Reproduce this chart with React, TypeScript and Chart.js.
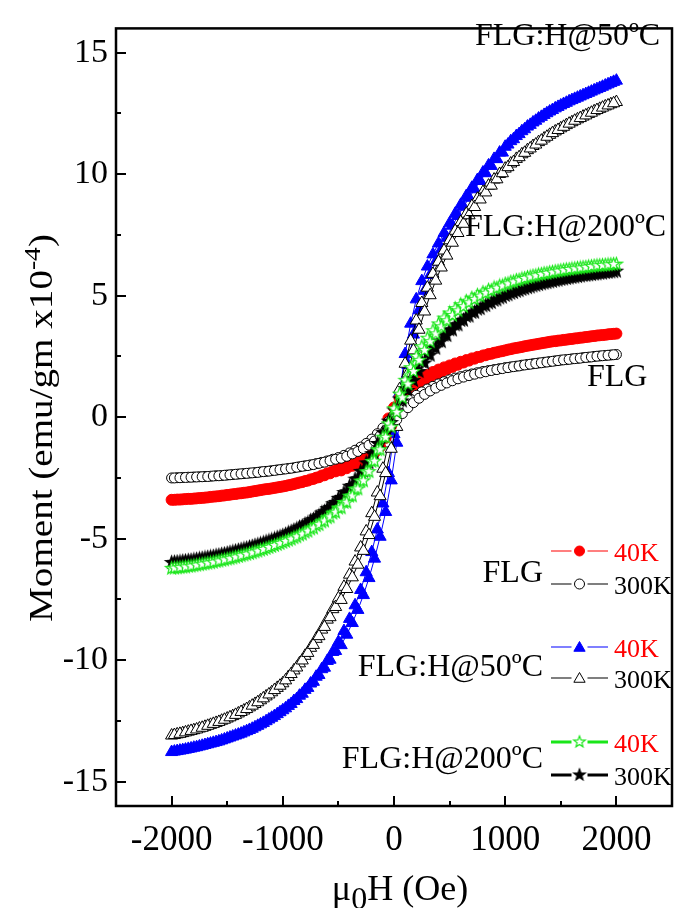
import React, { useEffect, useRef } from "react";
import { Chart, registerables } from "chart.js";

Chart.register(...registerables);

// ---------- data ----------
// descending branch field values (Oe)
const fieldOe = [
  -2000, -1950, -1900, -1850, -1800, -1750, -1700, -1650, -1600, -1550,
  -1500, -1450, -1400, -1350, -1300, -1250, -1200, -1150, -1100, -1050,
  -1000, -950, -900, -850, -800, -750, -700, -650, -600, -550,
  -500, -450, -400, -350, -300, -250, -200, -150, -100, -50,
  0, 50, 100, 150, 200, 250, 300, 350, 400, 450,
  500, 550, 600, 650, 700, 750, 800, 850, 900, 950,
  1000, 1050, 1100, 1150, 1200, 1250, 1300, 1350, 1400, 1450,
  1500, 1550, 1600, 1650, 1700, 1750, 1800, 1850, 1900, 1950,
  2000,
];
// ascending branch field values (Oe)
const fieldUpOe = [
  -1975, -1925, -1875, -1825, -1775, -1725, -1675, -1625, -1575, -1525,
  -1475, -1425, -1375, -1325, -1275, -1225, -1175, -1125, -1075, -1025,
  -975, -925, -875, -825, -775, -725, -675, -625, -575, -525,
  -475, -425, -375, -325, -275, -225, -175, -125, -75, -25,
  25, 75, 125, 175, 225, 275, 325, 375, 425, 475,
  525, 575, 625, 675, 725, 775, 825, 875, 925, 975,
  1025, 1075, 1125, 1175, 1225, 1275, 1325, 1375, 1425, 1475,
  1525, 1575, 1625, 1675, 1725, 1775, 1825, 1875, 1925, 1975,
];

// FLG, 40K
const flg40K = [
  -3.40, -3.39, -3.38, -3.36, -3.35, -3.33, -3.31, -3.28, -3.26, -3.23,
  -3.20, -3.17, -3.14, -3.11, -3.08, -3.04, -3.00, -2.96, -2.93, -2.89,
  -2.85, -2.80, -2.75, -2.69, -2.63, -2.56, -2.49, -2.40, -2.31, -2.22,
  -2.12, -2.02, -1.91, -1.79, -1.65, -1.47, -1.25, -0.95, -0.55, -0.05,
  0.40, 0.78, 1.05, 1.27, 1.45, 1.60, 1.74, 1.86, 1.96, 2.05,
  2.13, 2.21, 2.28, 2.35, 2.42, 2.48, 2.54, 2.60, 2.65, 2.70,
  2.75, 2.80, 2.85, 2.89, 2.94, 2.98, 3.02, 3.06, 3.10, 3.13,
  3.16, 3.19, 3.22, 3.25, 3.28, 3.31, 3.34, 3.37, 3.39, 3.42,
  3.44,
];
const flg40KUp = [
  -3.40, -3.39, -3.37, -3.36, -3.34, -3.32, -3.30, -3.27, -3.25, -3.22,
  -3.19, -3.16, -3.13, -3.10, -3.06, -3.02, -2.98, -2.95, -2.91, -2.87,
  -2.83, -2.78, -2.72, -2.67, -2.61, -2.54, -2.47, -2.39, -2.31, -2.23,
  -2.19, -2.10, -2.00, -1.90, -1.78, -1.64, -1.46, -1.22, -0.85, -0.35,
  0.15, 0.50, 0.80, 1.05, 1.27, 1.45, 1.60, 1.74, 1.86, 1.97,
  2.07, 2.16, 2.25, 2.33, 2.41, 2.48, 2.55, 2.61, 2.67, 2.72,
  2.78, 2.83, 2.87, 2.92, 2.96, 3.00, 3.04, 3.08, 3.12, 3.15,
  3.18, 3.21, 3.24, 3.27, 3.30, 3.33, 3.36, 3.38, 3.41, 3.43,
];

// FLG, 300K
const flg300K = [
  -2.50, -2.49, -2.48, -2.47, -2.46, -2.45, -2.44, -2.43, -2.41, -2.40,
  -2.38, -2.36, -2.34, -2.32, -2.30, -2.28, -2.25, -2.23, -2.20, -2.17,
  -2.14, -2.11, -2.08, -2.04, -2.00, -1.96, -1.91, -1.86, -1.80, -1.73,
  -1.66, -1.57, -1.47, -1.36, -1.23, -1.08, -0.90, -0.68, -0.44, -0.18,
  0.08, 0.32, 0.54, 0.74, 0.90, 1.04, 1.16, 1.27, 1.37, 1.46,
  1.54, 1.61, 1.67, 1.73, 1.78, 1.83, 1.88, 1.92, 1.96, 2.00,
  2.04, 2.07, 2.10, 2.14, 2.17, 2.20, 2.23, 2.26, 2.29, 2.32,
  2.35, 2.37, 2.40, 2.42, 2.45, 2.47, 2.50, 2.52, 2.54, 2.56,
  2.58,
];
const flg300KUp = [
  -2.50, -2.49, -2.48, -2.47, -2.46, -2.45, -2.44, -2.42, -2.41, -2.39,
  -2.37, -2.35, -2.33, -2.31, -2.29, -2.27, -2.24, -2.22, -2.19, -2.16,
  -2.13, -2.10, -2.06, -2.02, -1.99, -1.95, -1.90, -1.85, -1.79, -1.73,
  -1.69, -1.61, -1.51, -1.41, -1.29, -1.15, -0.98, -0.77, -0.54, -0.32,
  -0.10, 0.15, 0.39, 0.60, 0.78, 0.94, 1.08, 1.20, 1.31, 1.41,
  1.50, 1.58, 1.65, 1.71, 1.77, 1.82, 1.87, 1.92, 1.96, 2.00,
  2.04, 2.08, 2.11, 2.15, 2.18, 2.21, 2.24, 2.27, 2.30, 2.33,
  2.36, 2.38, 2.41, 2.43, 2.46, 2.48, 2.51, 2.53, 2.55, 2.57,
];

// FLG:H@50ºC, 40K
const h50_40K = [
  -13.78, -13.74, -13.70, -13.65, -13.60, -13.55, -13.49, -13.43, -13.37, -13.30,
  -13.22, -13.14, -13.06, -12.97, -12.87, -12.76, -12.64, -12.51, -12.37, -12.22,
  -12.06, -11.88, -11.68, -11.46, -11.22, -10.96, -10.68, -10.37, -10.03, -9.66,
  -9.25, -8.80, -8.30, -7.74, -7.11, -6.38, -5.55, -4.62, -3.55, -2.30,
  -0.70, 1.00, 2.60, 3.85, 4.85, 5.60, 6.20, 6.70, 7.15, 7.58,
  7.98, 8.37, 8.74, 9.10, 9.44, 9.76, 10.07, 10.36, 10.63, 10.89,
  11.13, 11.36, 11.57, 11.77, 11.96, 12.13, 12.29, 12.44, 12.58, 12.71,
  12.83, 12.94, 13.05, 13.15, 13.25, 13.35, 13.45, 13.55, 13.65, 13.75,
  13.85,
];
const h50_40KUp = [
  -13.76, -13.72, -13.68, -13.63, -13.58, -13.52, -13.46, -13.40, -13.34, -13.26,
  -13.18, -13.10, -13.02, -12.92, -12.82, -12.70, -12.58, -12.44, -12.30, -12.14,
  -11.98, -11.80, -11.60, -11.38, -11.14, -10.89, -10.61, -10.31, -9.98, -9.62,
  -9.38, -8.95, -8.47, -7.93, -7.32, -6.62, -5.82, -4.92, -3.90, -2.60,
  -1.05, 0.65, 2.15, 3.40, 4.40, 5.20, 5.85, 6.40, 6.90, 7.38,
  7.88, 8.28, 8.66, 9.03, 9.38, 9.72, 10.04, 10.34, 10.62, 10.89,
  11.22, 11.44, 11.65, 11.85, 12.03, 12.20, 12.36, 12.51, 12.64, 12.77,
  12.89, 13.00, 13.10, 13.20, 13.30, 13.40, 13.50, 13.60, 13.70, 13.80,
];

// FLG:H@50ºC, 300K
const h50_300K = [
  -13.10, -13.05, -13.00, -12.94, -12.88, -12.81, -12.74, -12.66, -12.58, -12.49,
  -12.40, -12.30, -12.19, -12.07, -11.94, -11.80, -11.65, -11.49, -11.32, -11.14,
  -10.95, -10.69, -10.42, -10.13, -9.82, -9.49, -9.12, -8.74, -8.33, -7.90,
  -7.45, -6.98, -6.48, -5.94, -5.36, -4.70, -3.95, -3.10, -2.12, -1.08,
  0.00, 1.15, 2.20, 3.15, 3.98, 4.70, 5.33, 5.90, 6.40, 6.86,
  7.28, 7.67, 8.03, 8.37, 8.69, 8.99, 9.27, 9.53, 9.78, 10.01,
  10.23, 10.44, 10.63, 10.82, 10.99, 11.16, 11.32, 11.47, 11.62, 11.76,
  11.89, 12.02, 12.14, 12.26, 12.37, 12.48, 12.59, 12.69, 12.79, 12.88,
  12.97,
];
const h50_300KUp = [
  -13.08, -13.03, -12.97, -12.91, -12.85, -12.78, -12.70, -12.62, -12.54, -12.45,
  -12.35, -12.25, -12.13, -12.01, -11.87, -11.73, -11.57, -11.41, -11.23, -11.05,
  -10.83, -10.57, -10.30, -10.01, -9.70, -9.37, -9.01, -8.63, -8.23, -7.81,
  -7.52, -7.07, -6.59, -6.07, -5.50, -4.85, -4.10, -3.25, -2.30, -1.30,
  -0.40, 0.75, 1.80, 2.75, 3.60, 4.35, 5.02, 5.62, 6.16, 6.65,
  7.18, 7.58, 7.96, 8.31, 8.65, 8.96, 9.25, 9.53, 9.79, 10.04,
  10.29, 10.50, 10.70, 10.88, 11.06, 11.22, 11.38, 11.54, 11.69, 11.82,
  11.95, 12.08, 12.20, 12.31, 12.42, 12.53, 12.64, 12.74, 12.83, 12.92,
];

// FLG:H@200ºC, 40K
const h200_40K = [
  -6.22, -6.20, -6.17, -6.14, -6.11, -6.07, -6.03, -5.99, -5.94, -5.89,
  -5.84, -5.79, -5.73, -5.67, -5.61, -5.54, -5.47, -5.40, -5.32, -5.24,
  -5.15, -5.06, -4.96, -4.85, -4.73, -4.60, -4.46, -4.31, -4.14, -3.95,
  -3.74, -3.51, -3.25, -2.96, -2.63, -2.25, -1.82, -1.34, -0.82, -0.27,
  0.35, 0.95, 1.52, 2.04, 2.50, 2.90, 3.25, 3.56, 3.84, 4.08,
  4.29, 4.47, 4.63, 4.77, 4.90, 5.02, 5.13, 5.23, 5.32, 5.40,
  5.48, 5.56, 5.63, 5.69, 5.75, 5.81, 5.86, 5.91, 5.95, 5.99,
  6.03, 6.07, 6.10, 6.13, 6.16, 6.19, 6.22, 6.24, 6.26, 6.28,
  6.30,
];
const h200_40KUp = [
  -6.21, -6.19, -6.16, -6.13, -6.09, -6.05, -6.01, -5.97, -5.92, -5.87,
  -5.82, -5.76, -5.70, -5.64, -5.58, -5.51, -5.44, -5.36, -5.28, -5.20,
  -5.11, -5.02, -4.92, -4.81, -4.69, -4.56, -4.42, -4.27, -4.10, -3.91,
  -3.73, -3.50, -3.24, -2.95, -2.62, -2.24, -1.81, -1.34, -0.83, -0.41,
  0.20, 0.80, 1.36, 1.88, 2.34, 2.75, 3.11, 3.43, 3.72, 3.97,
  4.19, 4.38, 4.55, 4.71, 4.85, 4.98, 5.10, 5.21, 5.31, 5.40,
  5.49, 5.57, 5.64, 5.71, 5.77, 5.82, 5.88, 5.92, 5.97, 6.01,
  6.05, 6.08, 6.11, 6.14, 6.17, 6.20, 6.23, 6.25, 6.27, 6.29,
];

// FLG:H@200ºC, 300K
const h200_300K = [
  -5.98, -5.96, -5.93, -5.90, -5.87, -5.83, -5.79, -5.75, -5.70, -5.65,
  -5.60, -5.54, -5.48, -5.42, -5.35, -5.28, -5.21, -5.13, -5.05, -4.96,
  -4.87, -4.76, -4.65, -4.53, -4.40, -4.26, -4.11, -3.94, -3.76, -3.56,
  -3.34, -3.10, -2.84, -2.55, -2.23, -1.88, -1.50, -1.08, -0.63, -0.16,
  0.30, 0.75, 1.18, 1.58, 1.95, 2.29, 2.60, 2.88, 3.14, 3.38,
  3.60, 3.80, 3.98, 4.15, 4.31, 4.45, 4.58, 4.70, 4.81, 4.91,
  5.01, 5.10, 5.18, 5.26, 5.33, 5.40, 5.46, 5.52, 5.57, 5.62,
  5.67, 5.71, 5.75, 5.79, 5.83, 5.86, 5.89, 5.92, 5.95, 5.98,
  6.01,
];
const h200_300KUp = [
  -5.97, -5.95, -5.92, -5.89, -5.85, -5.81, -5.77, -5.73, -5.68, -5.63,
  -5.57, -5.51, -5.45, -5.39, -5.32, -5.25, -5.17, -5.09, -5.01, -4.92,
  -4.82, -4.71, -4.60, -4.48, -4.35, -4.21, -4.06, -3.89, -3.71, -3.51,
  -3.30, -3.07, -2.81, -2.53, -2.22, -1.88, -1.50, -1.09, -0.66, -0.22,
  0.22, 0.67, 1.10, 1.51, 1.88, 2.23, 2.55, 2.84, 3.11, 3.36,
  3.59, 3.80, 3.99, 4.16, 4.32, 4.47, 4.60, 4.72, 4.83, 4.94,
  5.04, 5.13, 5.21, 5.29, 5.36, 5.43, 5.49, 5.54, 5.59, 5.64,
  5.69, 5.73, 5.77, 5.81, 5.84, 5.87, 5.90, 5.93, 5.96, 5.99,
];

const xMajorTicks = [-2000, -1000, 0, 1000, 2000];
const xMinorTicks = [-1500, -500, 500, 1500];
const yMajorTicks = [-15, -10, -5, 0, 5, 10, 15];
const yMinorTicks = [-12.5, -7.5, -2.5, 2.5, 7.5, 12.5];

const sampleNames = ["FLG", "FLG:H@50ºC", "FLG:H@200ºC"];
const tempLabels = ["40K", "300K"];

// ---------- styling ----------
const SERIF = '"Liberation Serif", "Times New Roman", serif';
const RED = "#ff0000";
const BLUE = "#0000ff";
const GREEN = "#19e619";

function makeStar(fill: string, stroke: string, r: number) {
  const size = Math.ceil(r * 2 + 4);
  const c = document.createElement("canvas");
  c.width = size;
  c.height = size;
  const ctx = c.getContext("2d")!;
  ctx.beginPath();
  for (let i = 0; i < 10; i++) {
    const rad = i % 2 === 0 ? r : r * 0.42;
    const a = -Math.PI / 2 + (i * Math.PI) / 5;
    const px = size / 2 + rad * Math.cos(a);
    const py = size / 2 + rad * Math.sin(a);
    if (i === 0) ctx.moveTo(px, py);
    else ctx.lineTo(px, py);
  }
  ctx.closePath();
  ctx.fillStyle = fill;
  ctx.fill();
  ctx.lineWidth = 1.2;
  ctx.strokeStyle = stroke;
  ctx.stroke();
  return c;
}

// loop: descending branch (+2000 -> -2000) followed by ascending branch
function toLoop(down: number[], up: number[]) {
  const pts: { x: number; y: number }[] = [];
  for (let i = fieldOe.length - 1; i >= 0; i--) pts.push({ x: fieldOe[i], y: down[i] });
  for (let i = 0; i < fieldUpOe.length; i++) pts.push({ x: fieldUpOe[i], y: up[i] });
  return pts;
}

export default function App() {
  const canvasRef = useRef<HTMLCanvasElement | null>(null);

  useEffect(() => {
    document.body.style.margin = "0";
    const canvas = canvasRef.current;
    if (!canvas) return;

    const greenStar = makeStar("#ffffff", GREEN, 6.5);
    const blackStar = makeStar("#000000", "#000000", 6.5);
    const greenStarSmall = makeStar("#ffffff", GREEN, 6);
    const blackStarSmall = makeStar("#000000", "#000000", 6);

    const drawMarker = (
      ctx: CanvasRenderingContext2D,
      kind: string,
      cx: number,
      cy: number,
      fill: string,
      stroke: string
    ) => {
      ctx.save();
      ctx.lineWidth = 1;
      ctx.fillStyle = fill;
      ctx.strokeStyle = stroke;
      if (kind === "circle") {
        ctx.beginPath();
        ctx.arc(cx, cy, 5, 0, Math.PI * 2);
        ctx.fill();
        ctx.stroke();
      } else if (kind === "triangle") {
        const r = 6.5;
        ctx.beginPath();
        for (let i = 0; i < 3; i++) {
          const a = -Math.PI / 2 + (i * 2 * Math.PI) / 3;
          const px = cx + r * Math.cos(a);
          const py = cy + r * Math.sin(a) + 1;
          if (i === 0) ctx.moveTo(px, py);
          else ctx.lineTo(px, py);
        }
        ctx.closePath();
        ctx.fill();
        ctx.stroke();
      }
      ctx.restore();
    };

    const decor = {
      id: "decor",
      afterDraw(chart: any) {
        const ctx: CanvasRenderingContext2D = chart.ctx;
        const { left, right, top, bottom } = chart.chartArea;
        const xs = chart.scales.x;
        const ys = chart.scales.y;
        ctx.save();
        ctx.strokeStyle = "#000";
        ctx.lineCap = "butt";

        // inward ticks
        ctx.lineWidth = 2;
        ctx.beginPath();
        xMajorTicks.forEach((v) => {
          const px = Math.round(xs.getPixelForValue(v));
          ctx.moveTo(px, bottom);
          ctx.lineTo(px, bottom - 10);
        });
        xMinorTicks.forEach((v) => {
          const px = Math.round(xs.getPixelForValue(v));
          ctx.moveTo(px, bottom);
          ctx.lineTo(px, bottom - 5);
        });
        yMajorTicks.forEach((v) => {
          const py = Math.round(ys.getPixelForValue(v));
          ctx.moveTo(left, py);
          ctx.lineTo(left + 10, py);
        });
        yMinorTicks.forEach((v) => {
          const py = Math.round(ys.getPixelForValue(v));
          ctx.moveTo(left, py);
          ctx.lineTo(left + 5, py);
        });
        ctx.stroke();

        // frame
        ctx.lineWidth = 2.5;
        ctx.strokeRect(left, top, right - left, bottom - top);

        // y title (rotated, with superscript)
        ctx.save();
        ctx.translate(52, 428);
        ctx.rotate(-Math.PI / 2);
        ctx.scale(1.15, 1);
        ctx.fillStyle = "#000";
        ctx.textBaseline = "alphabetic";
        ctx.textAlign = "left";
        const p1 = "Moment (emu/gm x10";
        const sup = "-4";
        const p3 = ")";
        ctx.font = `34px ${SERIF}`;
        const w1 = ctx.measureText(p1).width;
        const w3 = ctx.measureText(p3).width;
        ctx.font = `24px ${SERIF}`;
        const w2 = ctx.measureText(sup).width;
        const sx = -(w1 + w2 + w3) / 2;
        ctx.font = `34px ${SERIF}`;
        ctx.fillText(p1, sx, 0);
        ctx.fillText(p3, sx + w1 + w2, 0);
        ctx.font = `24px ${SERIF}`;
        ctx.fillText(sup, sx + w1, -12);
        ctx.restore();

        // x title with subscript
        ctx.fillStyle = "#000";
        ctx.textBaseline = "alphabetic";
        ctx.textAlign = "left";
        ctx.font = `36px ${SERIF}`;
        const t1 = "μ";
        const t2 = "0";
        const t3 = "H (Oe)";
        const a1 = ctx.measureText(t1).width;
        ctx.font = `32px ${SERIF}`;
        const a2 = ctx.measureText(t2).width;
        ctx.font = `36px ${SERIF}`;
        const a3 = ctx.measureText(t3).width;
        const tx = 400 - (a1 + a2 + a3) / 2;
        const tb = 900;
        ctx.fillText(t1, tx, tb);
        ctx.fillText(t3, tx + a1 + a2, tb);
        ctx.font = `32px ${SERIF}`;
        ctx.fillText(t2, tx + a1, tb + 9);

        // curve annotations
        ctx.font = `32px ${SERIF}`;
        ctx.fillText(sampleNames[1], 475, 45);
        ctx.fillText(sampleNames[2], 465, 236);
        ctx.fillText(sampleNames[0], 587, 386);

        // legend
        const lx1 = 551;
        const lx2 = 608;
        const mx = (lx1 + lx2) / 2;
        const gap = 8;
        const rows = [
          { name: sampleNames[0], nameY: 582, y40: 551, y300: 584, w: 1.2, c40: RED, c300: "#000",
            m40: () => drawMarker(ctx, "circle", mx, 551, RED, RED),
            m300: () => drawMarker(ctx, "circle", mx, 584, "#fff", "#000") },
          { name: sampleNames[1], nameY: 676, y40: 647, y300: 678, w: 1.2, c40: BLUE, c300: "#000",
            m40: () => drawMarker(ctx, "triangle", mx, 647, BLUE, BLUE),
            m300: () => drawMarker(ctx, "triangle", mx, 678, "#fff", "#000") },
          { name: sampleNames[2], nameY: 768, y40: 742, y300: 775, w: 3, c40: GREEN, c300: "#000",
            m40: () => ctx.drawImage(greenStarSmall, mx - greenStarSmall.width / 2, 742 - greenStarSmall.height / 2),
            m300: () => ctx.drawImage(blackStarSmall, mx - blackStarSmall.width / 2, 775 - blackStarSmall.height / 2) },
        ];
        rows.forEach((r) => {
          ctx.font = `32px ${SERIF}`;
          ctx.fillStyle = "#000";
          ctx.textAlign = "right";
          ctx.fillText(r.name, 543, r.nameY);
          [
            { y: r.y40, c: r.c40, m: r.m40, label: tempLabels[0], lc: RED },
            { y: r.y300, c: r.c300, m: r.m300, label: tempLabels[1], lc: "#000" },
          ].forEach((it) => {
            ctx.strokeStyle = it.c;
            ctx.lineWidth = r.w;
            ctx.beginPath();
            ctx.moveTo(lx1, it.y);
            ctx.lineTo(mx - gap, it.y);
            ctx.moveTo(mx + gap, it.y);
            ctx.lineTo(lx2, it.y);
            ctx.stroke();
            it.m();
            ctx.font = `26px ${SERIF}`;
            ctx.fillStyle = it.lc;
            ctx.textAlign = "left";
            ctx.fillText(it.label, 614, it.y + 10);
          });
        });

        ctx.restore();
      },
    };

    const chart = new Chart(canvas, {
      type: "scatter",
      data: {
        datasets: [
          {
            label: "FLG:H@200ºC 40K",
            data: toLoop(h200_40K, h200_40KUp),
            showLine: true,
            borderColor: GREEN,
            borderWidth: 1,
            pointStyle: greenStar as any,
            pointRadius: 6,
            order: 0,
          },
          {
            label: "FLG:H@200ºC 300K",
            data: toLoop(h200_300K, h200_300KUp),
            showLine: true,
            borderColor: "#000",
            borderWidth: 1,
            pointStyle: blackStar as any,
            pointRadius: 6,
            order: 1,
          },
          {
            label: "FLG 300K",
            data: toLoop(flg300K, flg300KUp),
            showLine: true,
            borderColor: "#000",
            borderWidth: 1,
            pointStyle: "circle",
            pointRadius: 5,
            pointBackgroundColor: "#fff",
            pointBorderColor: "#000",
            pointBorderWidth: 1,
            order: 2,
          },
          {
            label: "FLG 40K",
            data: toLoop(flg40K, flg40KUp),
            showLine: true,
            borderColor: RED,
            borderWidth: 1,
            pointStyle: "circle",
            pointRadius: 5.5,
            pointBackgroundColor: RED,
            pointBorderColor: RED,
            pointBorderWidth: 1,
            order: 3,
          },
          {
            label: "FLG:H@50ºC 300K",
            data: toLoop(h50_300K, h50_300KUp),
            showLine: true,
            borderColor: "#000",
            borderWidth: 1,
            pointStyle: "triangle",
            pointRadius: 7,
            pointBackgroundColor: "#fff",
            pointBorderColor: "#000",
            pointBorderWidth: 1,
            order: 4,
          },
          {
            label: "FLG:H@50ºC 40K",
            data: toLoop(h50_40K, h50_40KUp),
            showLine: true,
            borderColor: BLUE,
            borderWidth: 1,
            pointStyle: "triangle",
            pointRadius: 7,
            pointBackgroundColor: BLUE,
            pointBorderColor: BLUE,
            pointBorderWidth: 1,
            order: 5,
          },
        ],
      },
      options: {
        animation: false,
        responsive: false,
        maintainAspectRatio: false,
        events: [],
        layout: { padding: { top: 8, right: 13, left: 0, bottom: 0 }, autoPadding: false } as any,
        plugins: {
          legend: { display: false },
          tooltip: { enabled: false },
          title: { display: false },
        },
        scales: {
          x: {
            type: "linear",
            min: -2500,
            max: 2500,
            grid: { display: false, drawTicks: false },
            border: { display: false },
            afterFit: (s: any) => {
              s.height = 102;
            },
            afterBuildTicks: (s: any) => {
              s.ticks = xMajorTicks.map((v) => ({ value: v }));
            },
            ticks: {
              font: { family: SERIF, size: 35 },
              color: "#000",
              padding: 14,
              maxRotation: 0,
              autoSkip: false,
              callback: (v: any) => String(v),
            },
          },
          y: {
            type: "linear",
            min: -16,
            max: 16,
            grid: { display: false, drawTicks: false },
            border: { display: false },
            afterFit: (s: any) => {
              s.width = 116;
            },
            afterBuildTicks: (s: any) => {
              s.ticks = yMajorTicks.map((v) => ({ value: v }));
            },
            ticks: {
              font: { family: SERIF, size: 34 },
              color: "#000",
              padding: 8,
              autoSkip: false,
              callback: (v: any) => String(v),
            },
          },
        },
      },
      plugins: [decor],
    });

    return () => {
      chart.destroy();
    };
  }, []);

  return (
    <div style={{ width: 685, height: 908, background: "#fff" }}>
      <canvas ref={canvasRef} width={685} height={908} style={{ display: "block" }} />
    </div>
  );
}
